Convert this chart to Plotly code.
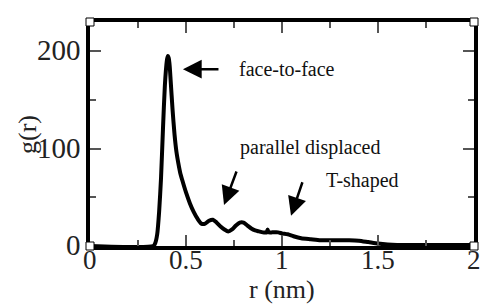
import plotly.graph_objects as go

r_nm = [0.0, 0.33, 0.34, 0.35, 0.36, 0.37, 0.38, 0.39, 0.40, 0.405, 0.41, 0.415, 0.42, 0.43, 0.44, 0.45, 0.46, 0.47,
        0.48, 0.50, 0.52, 0.54, 0.56, 0.58, 0.60, 0.62, 0.64, 0.66, 0.68, 0.70, 0.72, 0.74, 0.76, 0.78, 0.80,
        0.82, 0.84, 0.86, 0.88, 0.90, 0.92, 0.925, 0.93, 0.95, 0.98, 1.00, 1.03, 1.06, 1.10, 1.15, 1.20, 1.25,
        1.30, 1.35, 1.40, 1.45, 1.50, 1.55, 1.60, 1.70, 1.80, 1.90, 2.0]
g_r = [0, 0, 3, 12, 35, 70, 120, 165, 190, 195, 193, 185, 170, 140, 115, 97, 85, 75,
       68, 55, 44, 35, 28, 23, 23, 26, 27, 24, 20, 17, 15, 17, 21, 24, 24,
       21, 18, 16, 15, 14, 14, 17, 14, 14, 14, 13, 12, 10, 8, 7, 6, 6,
       6, 6, 5.5, 4, 2.5, 1.5, 1, 1, 1, 1, 1]

x_ticks = [0, 0.5, 1, 1.5, 2]
x_tick_labels = ["0", "0.5", "1", "1.5", "2"]
y_ticks = [0, 100, 200]
y_tick_labels = ["0", "100", "200"]
x_title = "r (nm)"
y_title = "g(r)"

labels = ["face-to-face", "parallel displaced", "T-shaped"]
label_x = [0.766, 0.771, 1.219]
label_y = [181.5, 101.5, 67.5]
arrow_head_x = [0.484, 0.698, 1.047]
arrow_head_y = [181.5, 42, 31]
arrow_tail_x = [0.677, 0.766, 1.109]
arrow_tail_y = [181.5, 78, 67]

FONT = "Liberation Serif, Times New Roman, serif"

fig = go.Figure()
fig.add_trace(go.Scatter(x=r_nm, y=g_r, mode="lines",
                         line=dict(color="black", width=4, shape="spline", smoothing=0.6),
                         showlegend=False, hoverinfo="skip"))

annotations = []
for t, x, y in zip(labels, label_x, label_y):
    annotations.append(dict(x=x, y=y, xref="x", yref="y", text=t, showarrow=False,
                            xanchor="left", yanchor="middle",
                            font=dict(family=FONT, size=20, color="#111")))
for hx, hy, tx, ty in zip(arrow_head_x, arrow_head_y, arrow_tail_x, arrow_tail_y):
    annotations.append(dict(x=hx, y=hy, xref="x", yref="y", ax=tx, ay=ty, axref="x", ayref="y",
                            text="", showarrow=True, arrowhead=2, arrowsize=1.5, arrowwidth=2.5,
                            arrowcolor="black"))
# tick labels
for v, t in zip(x_ticks, x_tick_labels):
    annotations.append(dict(x=v, y=0, xref="x", yref="paper", yshift=-14, text=t,
                            showarrow=False, xanchor="center", yanchor="middle",
                            font=dict(family=FONT, size=27, color="#222")))
for v, t in zip(y_ticks, y_tick_labels):
    annotations.append(dict(x=0, y=v, xref="paper", yref="y", xshift=-7, yshift=1, text=t,
                            showarrow=False, xanchor="right", yanchor="middle",
                            font=dict(family=FONT, size=29, color="#222")))
# axis titles
annotations.append(dict(x=0.5, y=0, xref="paper", yref="paper", yshift=-43, text=x_title,
                        showarrow=False, xanchor="center", yanchor="middle",
                        font=dict(family=FONT, size=26, color="#222")))
annotations.append(dict(x=0, y=0.5, xref="paper", yref="paper", xshift=-63, yshift=-1, text=y_title,
                        showarrow=False, xanchor="center", yanchor="middle", textangle=-90,
                        font=dict(family=FONT, size=26, color="#222")))

shapes = []
for cx, cy in [(0, 0), (1, 0), (0, 1), (1, 1)]:
    shapes.append(dict(type="rect", xref="paper", yref="paper", xsizemode="pixel", ysizemode="pixel",
                       xanchor=cx, yanchor=cy, x0=-4, x1=4, y0=-4, y1=4,
                       fillcolor="white", line=dict(color="black", width=1)))

axis_common = dict(showgrid=False, zeroline=False, showline=True, linecolor="black", linewidth=4,
                   mirror="allticks", ticks="inside", ticklen=11, tickwidth=1.5, tickcolor="#555",
                   automargin=False, showticklabels=False)

fig.update_layout(
    width=482, height=305,
    margin=dict(l=90, r=8, t=22, b=59),
    paper_bgcolor="white", plot_bgcolor="white",
    xaxis=dict(range=[0, 2], tickvals=x_ticks,
               minor=dict(ticks="inside", dtick=0.25, ticklen=6, tickwidth=1.5, tickcolor="#555"),
               **axis_common),
    yaxis=dict(range=[0, 230], tickvals=y_ticks,
               minor=dict(ticks="inside", dtick=50, ticklen=6, tickwidth=1.5, tickcolor="#555"),
               **axis_common),
    annotations=annotations,
    shapes=shapes,
)

fig.write_html("out.html", config={"displayModeBar": False},
               post_script="document.body.style.margin='0';document.body.style.padding='0';")
